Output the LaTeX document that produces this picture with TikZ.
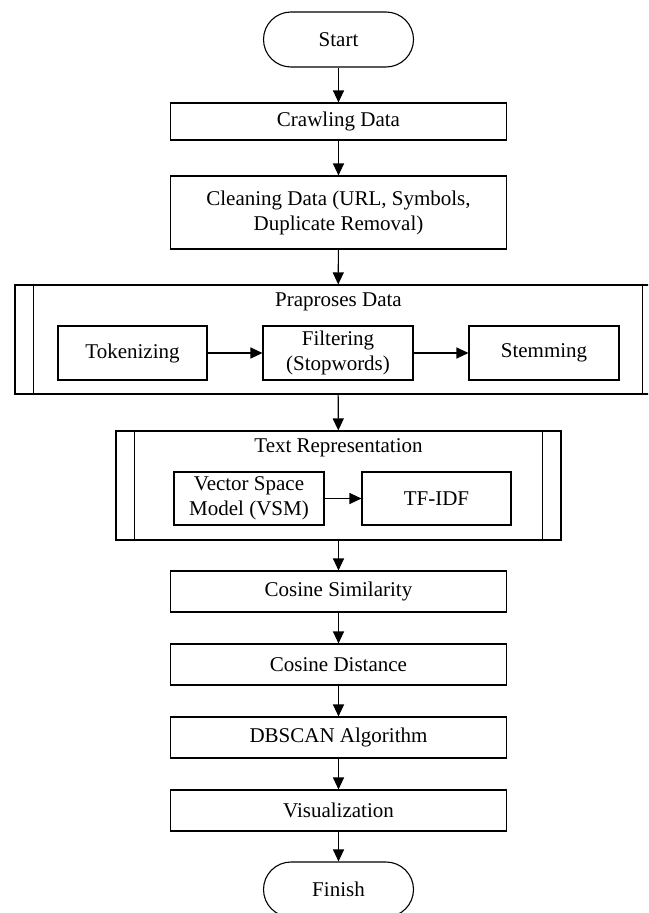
\documentclass[tikz,border=0pt]{standalone}
\usepackage{fontspec}
\setmainfont{Liberation Serif}
\usetikzlibrary{arrows.meta}

\tikzset{
    flow/.style={draw, line width=1.1pt, inner sep=0pt, align=center},
    term/.style={flow, rounded corners=27.5pt, minimum width=150pt, minimum height=55pt},
    proc/.style={flow, minimum width=336pt, minimum height=41pt},
    subproc/.style={flow, minimum width=150pt, minimum height=54pt},
    bar/.style={line width=1.1pt},
    go/.style={-{Triangle[length=12pt,width=11pt]}, line width=1.1pt},
}

\begin{document}
\begin{tikzpicture}[x=1pt, y=-1pt, every node/.append style={font=\fontsize{21}{25}\selectfont}]
                \clip (0,0) rectangle (648,913);
                \node[term] (start) at (338.5,39.5) {Start};
                \node[proc, minimum height=37pt] (crawl) at (338.5,121.5) {Crawling Data};
                \node[proc, minimum height=73pt] (clean) at (338.5,212.5) {Cleaning Data (URL, Symbols,\\Duplicate Removal)};

                \node[flow, minimum width=646pt, minimum height=109pt] (pre) at (338,339.5) {};
                \draw[bar] ([xshift=19pt]pre.north west) -- ([xshift=19pt]pre.south west);
                \draw[bar] ([xshift=-19pt]pre.north east) -- ([xshift=-19pt]pre.south east);
                \node (pretitle) at (338.5,302) {Praproses Data};
                \node[subproc, minimum width=149pt] (tok) at (132.5,353) {Tokenizing};
                \node[subproc] (filt) at (338,353) {Filtering\\(Stopwords)};
                \node[subproc] (stem) at (544,353) {Stemming};

                \node[flow, minimum width=445pt, minimum height=109pt] (textrep) at (338.5,485.5) {};
                \draw[bar] ([xshift=19pt]textrep.north west) -- ([xshift=19pt]textrep.south west);
                \draw[bar] ([xshift=-19pt]textrep.north east) -- ([xshift=-19pt]textrep.south east);
                \node (reptitle) at (338.5,448) {Text Representation};
                \node[subproc, minimum height=53pt] (vsm) at (249,498.5) {Vector Space\\Model (VSM)};
                \node[subproc, minimum width=149pt, minimum height=53pt] (tfidf) at (436.5,498.5) {TF-IDF};

                \node[proc] (cossim) at (338.5,591.5) {Cosine Similarity};
                \node[proc] (cosdist) at (338.5,664.5) {Cosine Distance};
                \node[proc] (dbscan) at (338.5,737.5) {DBSCAN Algorithm};
                \node[proc] (vis) at (338.5,810.5) {Visualization};
                \node[term] (finish) at (338.5,889.5) {Finish};

                \draw[go] (start) to (crawl); \draw[go] (crawl) to (clean); \draw[go] (clean) to (pre); \draw[go] (pre) to (textrep);
                \draw[go] (tok) to (filt); \draw[go] (filt) to (stem); \draw[go] (vsm) to (tfidf);
                \draw[go] (textrep) to (cossim); \draw[go] (cossim) to (cosdist); \draw[go] (cosdist) to (dbscan); \draw[go] (dbscan) to (vis); \draw[go] (vis) to (finish);
            \end{tikzpicture}
\end{document}
